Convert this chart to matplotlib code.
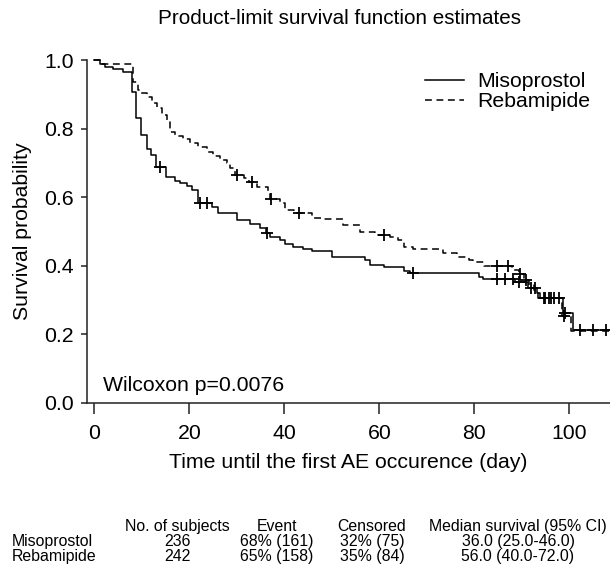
import numpy as np
import matplotlib
matplotlib.use("Agg")
import matplotlib.pyplot as plt
from matplotlib.lines import Line2D

plt.rcParams["font.family"] = ["Liberation Sans", "DejaVu Sans"]

# Kaplan-Meier steps (time in days, survival after the step)
miso_t = [0, 1.2, 2.2, 4.0, 6.1, 8.0, 8.7, 9.8, 11.0, 12.0, 13.0, 15.1, 17.0,
          18.0, 19.4, 20.5, 21.9, 24.7, 26.1, 30.0, 32.8, 34.9, 36.1, 37.0,
          39.1, 40.1, 41.9, 44.0, 45.8, 50.0, 53.8, 57.0, 58.1, 60.9, 65.1,
          66.5, 80.9, 81.9, 88.5, 91.4, 93.2, 93.9, 98.8, 100.9]
miso_s = [1.0, 0.988, 0.979, 0.974, 0.966, 0.908, 0.830, 0.781, 0.740, 0.723,
          0.687, 0.658, 0.648, 0.642, 0.633, 0.621, 0.582, 0.571, 0.553, 0.534,
          0.522, 0.509, 0.495, 0.483, 0.475, 0.464, 0.456, 0.450, 0.444, 0.427,
          0.425, 0.417, 0.402, 0.397, 0.386, 0.378, 0.368, 0.362, 0.354, 0.334,
          0.320, 0.305, 0.262, 0.213]
miso_cens = [13.8, 22.2, 23.8, 36.4, 67.0, 84.8, 86.5, 88.1, 89.5, 91.9, 92.8,
             94.6, 95.7, 96.7, 97.8, 99.2, 102.3, 105.0, 107.8]

reba_t = [0, 1.2, 8.2, 9.2, 9.9, 11.0, 12.1, 13.1, 14.2, 15.2, 15.9, 17.0,
          18.7, 20.1, 21.9, 23.6, 25.0, 26.4, 27.9, 28.6, 29.5, 31.4, 32.5,
          34.2, 36.6, 37.0, 39.1, 40.1, 42.0, 45.8, 48.2, 52.4, 56.0, 59.0,
          62.3, 64.0, 65.1, 67.2, 73.5, 76.3, 78.8, 79.8, 82.0, 87.9, 89.4,
          90.5, 91.5, 92.5, 93.5, 98.5, 100.3]
reba_s = [1.0, 0.988, 0.937, 0.913, 0.903, 0.893, 0.874, 0.859, 0.840, 0.820,
          0.791, 0.778, 0.769, 0.757, 0.745, 0.733, 0.720, 0.708, 0.699, 0.684,
          0.665, 0.655, 0.643, 0.629, 0.616, 0.595, 0.584, 0.563, 0.555, 0.538,
          0.535, 0.519, 0.498, 0.490, 0.483, 0.475, 0.454, 0.448, 0.436, 0.427,
          0.417, 0.410, 0.398, 0.388, 0.376, 0.360, 0.345, 0.330, 0.305, 0.255,
          0.210]
reba_cens = [30.0, 33.1, 37.1, 43.0, 60.9, 84.8, 87.2, 89.6, 91.0, 95.0, 96.2,
             99.0]

end_time = 108.6

table_cols = ["No. of subjects", "Event", "Censored", "Median survival (95% CI)"]
table_rows = ["Misoprostol", "Rebamipide"]
table_vals = [["236", "68% (161)", "32% (75)", "36.0 (25.0-46.0)"],
              ["242", "65% (158)", "35% (84)", "56.0 (40.0-72.0)"]]

W, H = 610, 570
fig = plt.figure(figsize=(W / 100, H / 100), dpi=100, facecolor="white")
ax = fig.add_axes([87 / W, 1 - 403 / H, (W - 87) / W, (403 - 60) / H])


def surv_at(t, s, x):
    i = np.searchsorted(np.asarray(t), x, side="right") - 1
    return np.asarray(s)[i]


for t, s, cens, ls in [(miso_t, miso_s, miso_cens, "-"),
                       (reba_t, reba_s, reba_cens, (0, (4.5, 3)))]:
    tt = list(t) + [end_time]
    ss = list(s) + [s[-1]]
    ax.step(tt, ss, where="post", color="black", linewidth=1.1,
            linestyle=ls, clip_on=False)
    cy = [surv_at(t, s, c) for c in cens]
    ax.plot(cens, cy, linestyle="none", marker="+", markersize=9,
            markeredgewidth=1.3, color="black", clip_on=False)

FS = 15.3
ax.set_xlim(-1.58, end_time)
ax.set_ylim(0, 1.0)
ax.set_xticks([0, 20, 40, 60, 80, 100])
ax.set_yticks([0.0, 0.2, 0.4, 0.6, 0.8, 1.0])
ax.set_yticklabels([f"{v:.1f}" for v in [0.0, 0.2, 0.4, 0.6, 0.8, 1.0]])
ax.tick_params(axis="both", direction="out", labelsize=FS, color="#222222",
               width=1.1)
ax.tick_params(axis="x", length=8, pad=7)
ax.tick_params(axis="y", length=4.5, pad=5)
for side in ["top", "right"]:
    ax.spines[side].set_visible(False)
for side in ["left", "bottom"]:
    ax.spines[side].set_linewidth(1.1)
    ax.spines[side].set_color("#222222")

ax.set_xlabel("Time until the first AE occurence (day)", fontsize=FS,
              labelpad=7)
ax.set_ylabel("Survival probability", fontsize=FS, labelpad=9)

ax.text(0.031, 0.052, "Wilcoxon p=0.0076", transform=ax.transAxes,
        fontsize=FS, va="center", ha="left")

handles = [Line2D([0], [0], color="black", linewidth=1.1, linestyle="-"),
           Line2D([0], [0], color="black", linewidth=1.1, linestyle=(0, (4.5, 3)))]
fig.legend(handles, table_rows, loc="upper left",
           bbox_to_anchor=(425 / W, 1 - 72 / H), frameon=False, fontsize=FS,
           handlelength=1.85, handletextpad=0.6, labelspacing=0.05, borderpad=0,
           borderaxespad=0)

fig.text(339 / W, 1 - 18 / H, "Product-limit survival function estimates",
         ha="center", va="center", fontsize=14.9)

# summary table under the plot
col_x = [177, 277, 372, 518]
row_base = [531, 546, 561]
TFS = 11.4
for x, lab in zip(col_x, table_cols):
    fig.text(x / W, 1 - row_base[0] / H, lab, ha="center", va="baseline",
             fontsize=TFS)
for r, (name, vals) in enumerate(zip(table_rows, table_vals)):
    y = 1 - row_base[r + 1] / H
    fig.text(12 / W, y, name, ha="left", va="baseline", fontsize=TFS)
    for x, v in zip(col_x, vals):
        fig.text(x / W, y, v, ha="center", va="baseline", fontsize=TFS)

fig.savefig("out.png", dpi=100, facecolor="white")
